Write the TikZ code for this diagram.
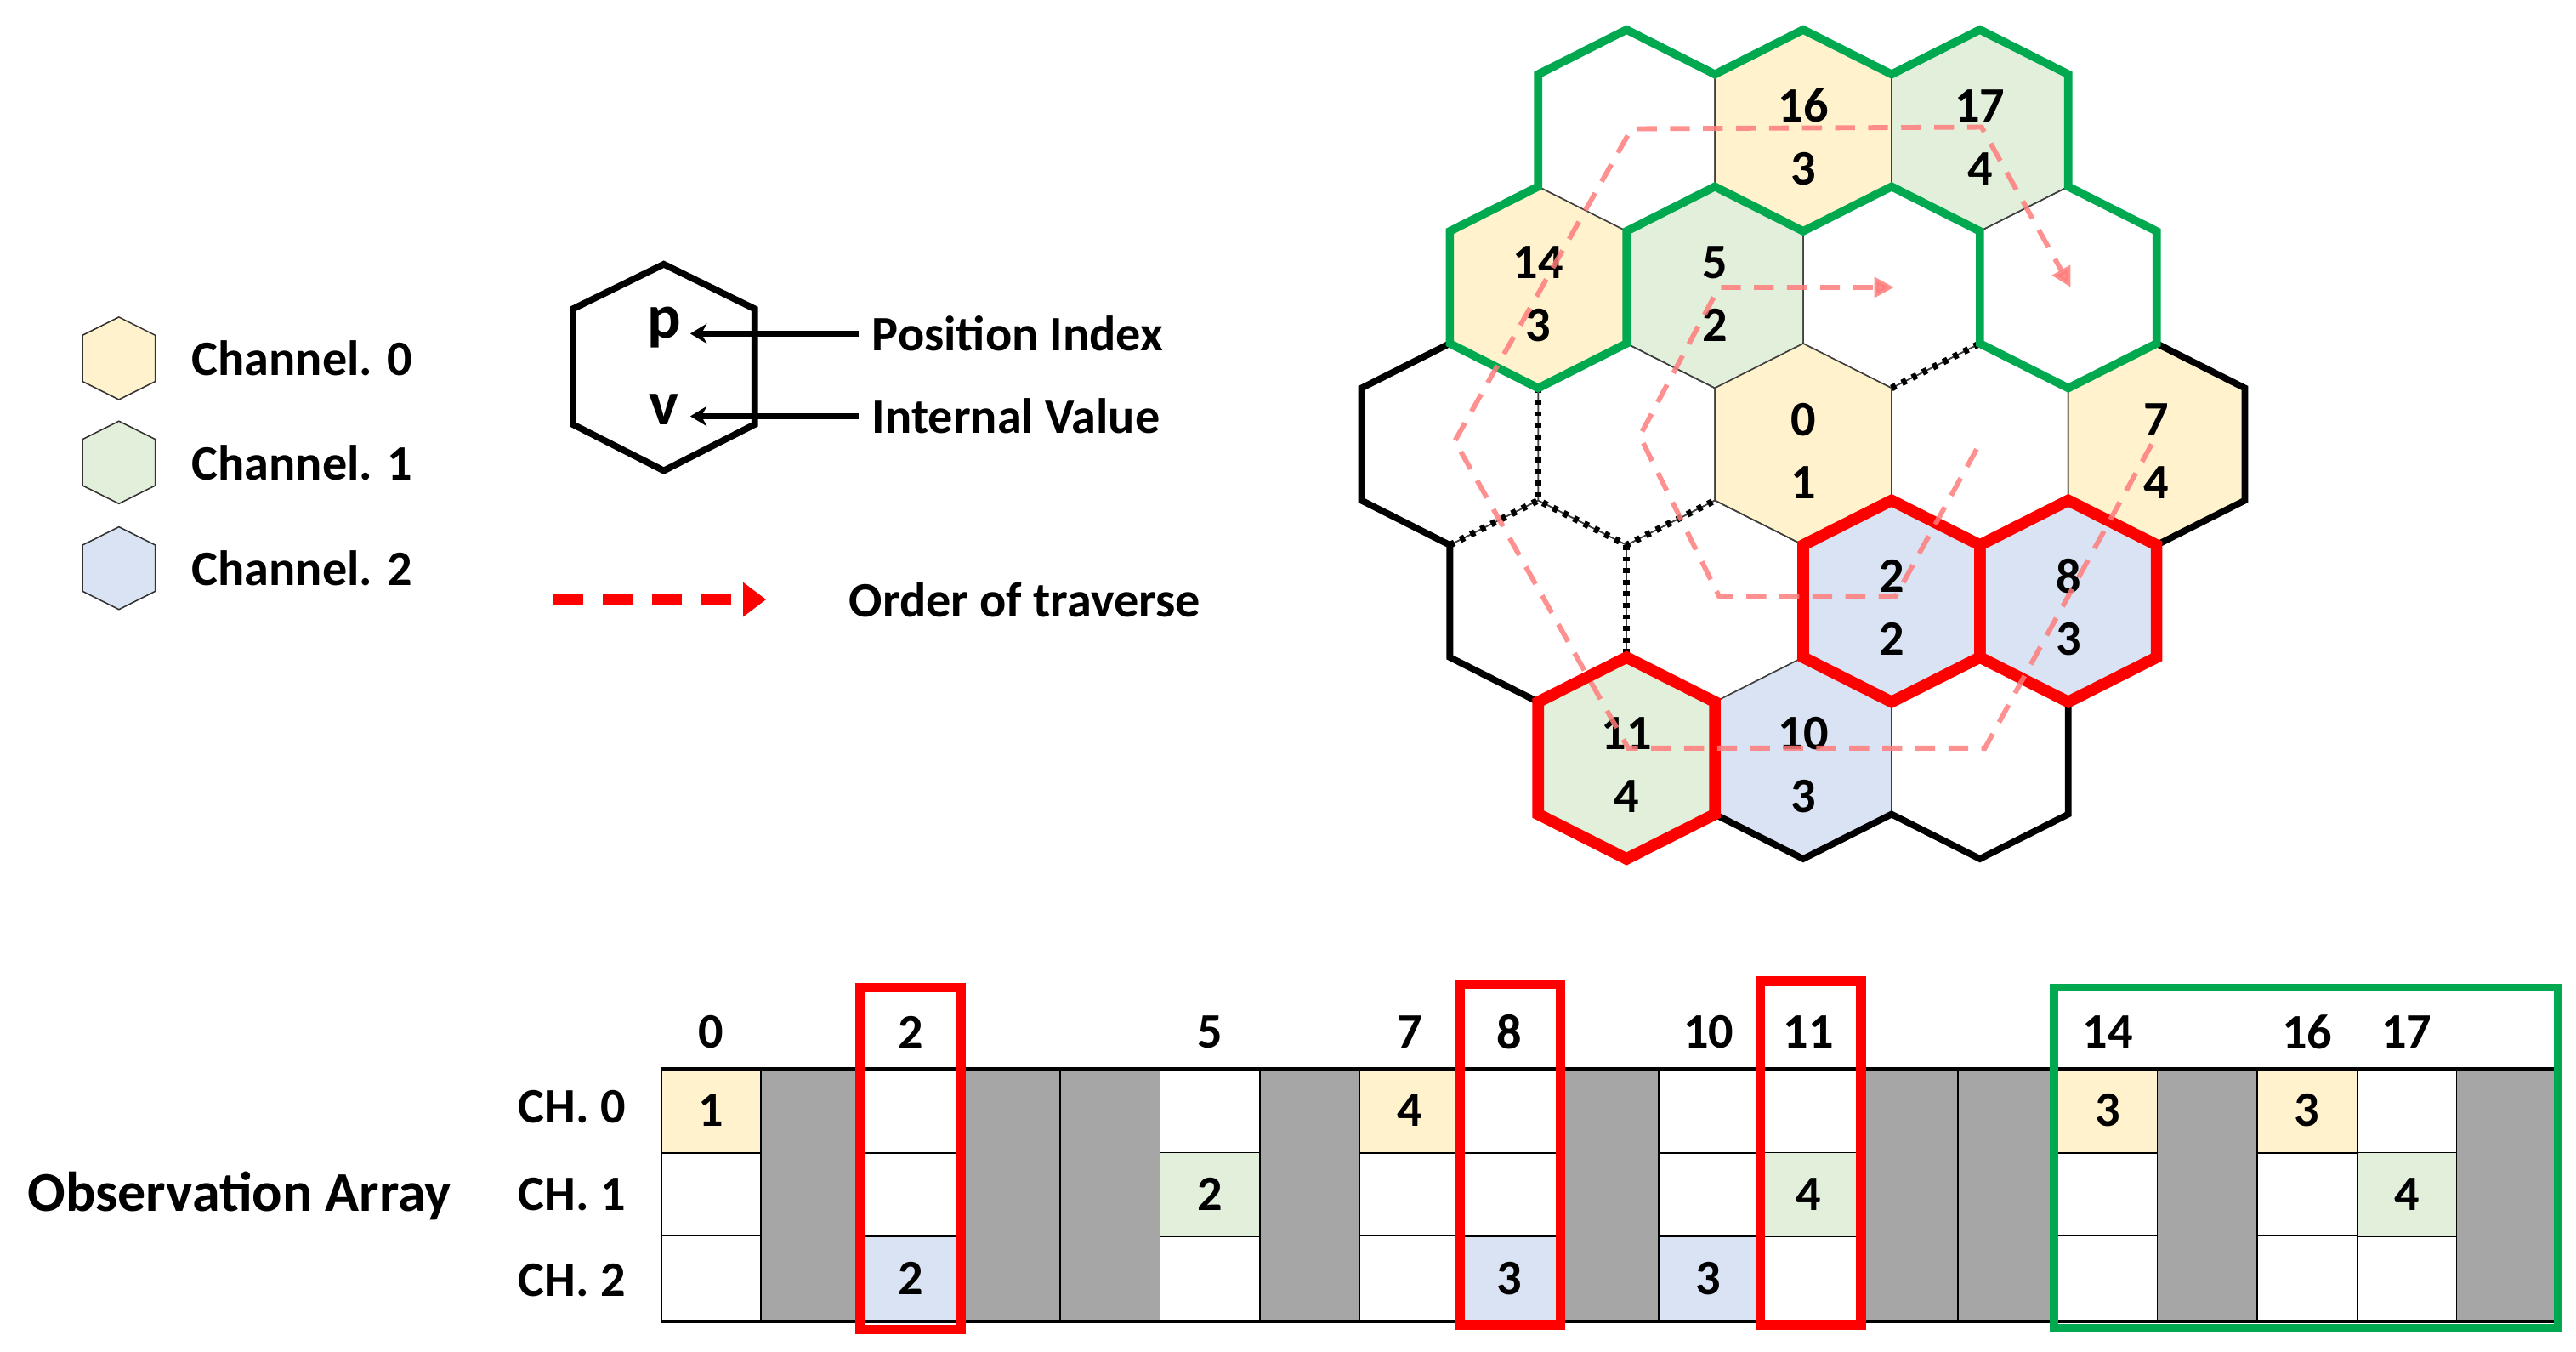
\documentclass[tikz,border=0pt]{standalone}
\usepackage{fontspec}
\setmainfont{Carlito}
\usetikzlibrary{arrows.meta}
\definecolor{cy}{HTML}{FFF2CC}
\definecolor{cg}{HTML}{E2EFDA}
\definecolor{cb}{HTML}{DAE3F3}
\definecolor{gcell}{HTML}{A6A6A6}
\definecolor{pinkl}{HTML}{FF7C7C}
\definecolor{gbox}{HTML}{00A84F}
\newcommand\hw{53.5}
\newcommand\hs{34}
\newcommand\hh{61}
\newcommand\hexpath[2]{(#1-\hw,#2-\hs) -- (#1,#2-\hh) -- (#1+\hw,#2-\hs) -- (#1+\hw,#2+\hs) -- (#1,#2+\hh) -- (#1-\hw,#2+\hs) -- cycle}
\newcommand\hexcell[5]{%
  \fill[#3] \hexpath{#1}{#2};
  \draw[inner] \hexpath{#1}{#2};
  \node[txt] (p#4) at (#1,#2-15) {#4};
  \node[txt] (v#4) at (#1,#2+23) {#5};}
\newcommand\hexblank[2]{\draw[inner] \hexpath{#1}{#2};}
\begin{document}
\begin{tikzpicture}[x=1pt,y=-1pt,
  txt/.style={font=\fontsize{30}{34}\selectfont\bfseries, inner sep=0pt},
  inner/.style={draw=black!75, line width=0.8pt},
  outer/.style={line width=4pt, line join=miter},
  dotedge/.style={line width=4pt, dash pattern=on 3pt off 4pt, line cap=butt},
  redhex/.style={draw=red, line width=7pt, line join=miter},
  trav/.style={draw=pinkl, opacity=0.85, line width=3pt, dash pattern=on 12pt off 8pt},
  cellg/.style={draw=black, line width=0.8pt}]
\useasboundingbox (0,0) rectangle (1560,818.6);
% ---------- legend ----------
\foreach \c/\yy/\n in {cy/217/0, cg/280/1, cb/344/2}{
  \draw[fill=\c, draw=black!80, line width=0.8pt] (50,\yy-14) -- (72,\yy-25) -- (94,\yy-14) -- (94,\yy+14) -- (72,\yy+25) -- (50,\yy+14) -- cycle;
  \node[txt, anchor=west] (leg\n) at (116,\yy) {Channel. \n};
}
\draw[line width=4pt, line join=miter] (347,187) -- (402,160) -- (457,187) -- (457,257) -- (402,285) -- (347,257) -- cycle;
\node[font=\fontsize{38}{42}\selectfont\bfseries, inner sep=0pt] (lp) at (402,198) {p};
\node[font=\fontsize{38}{42}\selectfont\bfseries, inner sep=0pt] (lv) at (402,248) {v};
\node[txt, anchor=west] (lpi) at (528,202) {Position Index};
\node[txt, anchor=west] (liv) at (528,252) {Internal Value};
\draw[line width=3.5pt, -{Stealth[length=10pt,width=12pt]}] ([xshift=-8pt]lpi.west) -- (418,202);
\draw[line width=3.5pt, -{Stealth[length=10pt,width=12pt]}] ([xshift=-8pt]liv.west) -- (418,252);
\coordinate (ts) at (335,363);
\coordinate (te) at (464,363);
\draw[red, line width=6pt, dash pattern=on 18pt off 12pt, -{Triangle[length=14pt,width=20pt]}] (ts) -- (te);
\node[txt, anchor=west] (lot) at (514,363) {Order of traverse};
% ---------- hex grid ----------
\hexblank{985}{79}
\hexcell{1092}{79}{cy}{16}{3}
\hexcell{1199}{79}{cg}{17}{4}
\hexcell{931.5}{174}{cy}{14}{3}
\hexcell{1038.5}{174}{cg}{5}{2}
\hexblank{1145.5}{174}
\hexblank{1252.5}{174}
\hexblank{878}{269}
\hexblank{985}{269}
\hexcell{1092}{269}{cy}{0}{1}
\hexblank{1199}{269}
\hexcell{1306}{269}{cy}{7}{4}
\hexblank{931.5}{364}
\hexblank{1038.5}{364}
\hexcell{1145.5}{364}{cb}{2}{2}
\hexcell{1252.5}{364}{cb}{8}{3}
\hexcell{985}{459}{cg}{11}{4}
\hexcell{1092}{459}{cb}{10}{3}
\hexblank{1199}{459}
\draw[outer] (931.5,45) -- (985,18) -- (1038.5,45) -- (1092,18) -- (1145.5,45) -- (1199,18) -- (1252.5,45) -- (1252.5,113) -- (1306,140) -- (1306,208) -- (1359.5,235) -- (1359.5,303) -- (1306,330) -- (1306,398) -- (1252.5,425) -- (1252.5,493) -- (1199,520) -- (1145.5,493) -- (1092,520) -- (1038.5,493) -- (985,520) -- (931.5,493) -- (931.5,425) -- (878,398) -- (878,330) -- (824.5,303) -- (824.5,235) -- (878,208) -- (878,140) -- (931.5,113) -- cycle;
\draw[dotedge] (1199,140) -- (1199,208) -- (1252.5,235);
\draw[dotedge] (1145.5,235) -- (1199,208);
\draw[dotedge] (931.5,235) -- (931.5,303);
\draw[dotedge] (878,330) -- (931.5,303) -- (985,330) -- (1038.5,303);
\draw[dotedge] (985,330) -- (985,398);
\draw[gbox, line width=5pt, line join=miter] (878,208) -- (878,140) -- (931.5,113) -- (931.5,45) -- (985,18) -- (1038.5,45) -- (1092,18) -- (1145.5,45) -- (1199,18) -- (1252.5,45) -- (1252.5,113) -- (1306,140) -- (1306,208) -- (1252.5,235) -- (1199,208) -- (1199,140) -- (1145.5,113) -- (1092,140) -- (1038.5,113) -- (985,140) -- (985,208) -- (931.5,235) -- cycle;
\draw[redhex] \hexpath{1145.5}{364};
\draw[redhex] \hexpath{1252.5}{364};
\draw[redhex] \hexpath{985}{459};
\coordinate (a0) at (1303,269);
\coordinate (a6) at (1254,174);
\draw[trav, -{Triangle[length=12pt,width=12pt]}] (a0) -- (1202,453) -- (986,453) -- (881,267) -- (988,78) -- (1200,77) -- (a6);
\coordinate (b0) at (1197,272);
\coordinate (b5) at (1147,174);
\draw[trav, -{Triangle[length=12pt,width=12pt]}] (b0) -- (1148,361) -- (1041,361) -- (993,264) -- (1041,174) -- (b5);
% ---------- observation array ----------
\foreach \i in {0,...,18}{
  \pgfmathsetmacro\xa{400.5+60.4*\i}
  \pgfmathsetmacro\xb{\xa+60.4}
  \foreach \r/\ya/\yb in {0/647/698, 1/698/748, 2/748/800}{
    \draw[cellg, fill=white] (\xa,\ya) rectangle (\xb,\yb);
  }
}
\foreach \i in {1,3,4,6,9,12,13,15,18}{
  \pgfmathsetmacro\xa{400.5+60.4*\i}
  \pgfmathsetmacro\xb{\xa+60.4}
  \draw[cellg, fill=gcell] (\xa,647) rectangle (\xb,800);
}
\foreach \i/\r/\c/\v in {0/0/cy/1, 7/0/cy/4, 14/0/cy/3, 16/0/cy/3, 5/1/cg/2, 11/1/cg/4, 17/1/cg/4, 2/2/cb/2, 8/2/cb/3, 10/2/cb/3}{
  \pgfmathsetmacro\xa{400.5+60.4*\i}
  \pgfmathsetmacro\ya{647+50.8*\r}
  \draw[cellg, fill=\c] (\xa,\ya) rectangle (\xa+60.4,\ya+50.8);
  \node[txt] (val\i-\r) at (\xa+30.2,\ya+25.4) {\v};
}
\draw[line width=2pt] (400.5,647) -- (1548,647);
\draw[line width=2pt] (400.5,800) -- (1548,800);
\foreach \i in {0,2,5,7,8,10,11,14,16,17}{
  \node[txt] (hdr\i) at (400.5+60.4*\i+30.2,625) {\i};
}
\foreach \r/\yy in {0/670, 1/723, 2/775}{
  \node[txt, anchor=east] (ch\r) at (379,\yy) {CH. \r};
}
\node[font=\fontsize{34}{38}\selectfont\bfseries, inner sep=0pt] (obs) at (145,724) {Observation Array};
\draw[red, line width=6pt] (521,598) rectangle (582,805);
\draw[red, line width=6pt] (884,596) rectangle (945,802);
\draw[red, line width=6pt] (1066,594) rectangle (1127,802);
\draw[gbox, line width=5pt] (1244,598) rectangle (1549,804);
\end{tikzpicture}
\end{document}
